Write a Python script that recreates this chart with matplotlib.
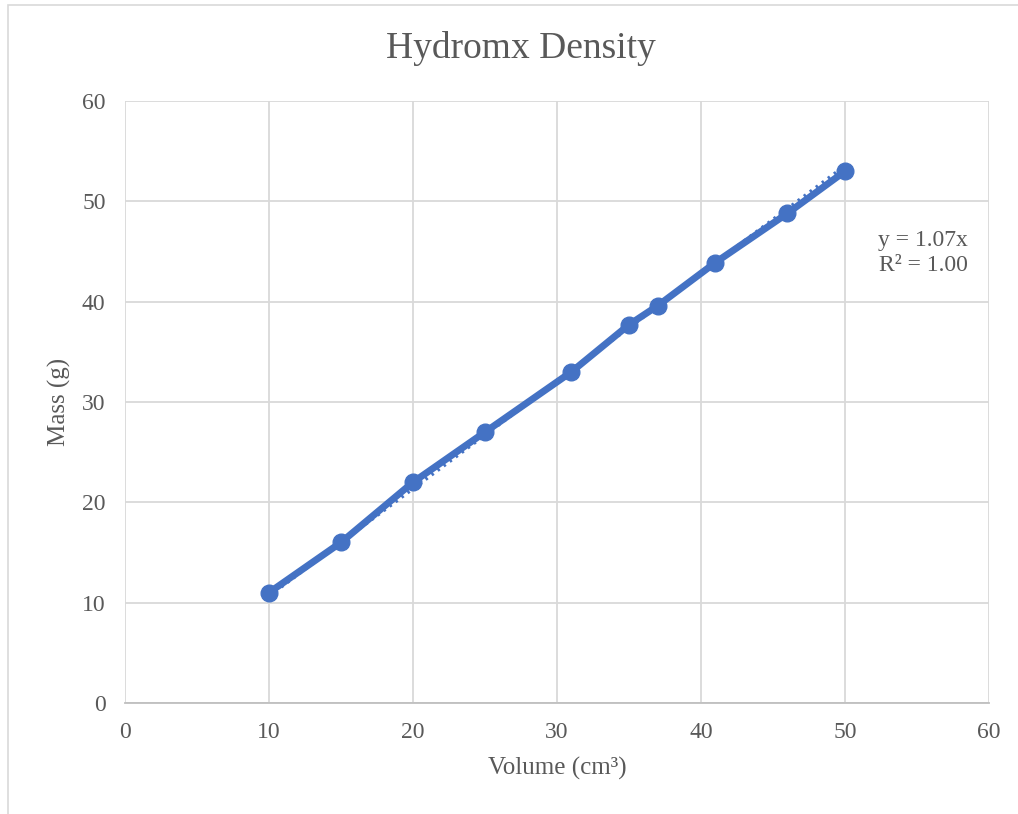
import matplotlib.pyplot as plt
import numpy as np
from matplotlib.patches import Rectangle

plt.rcParams['font.family'] = ['Liberation Serif', 'DejaVu Serif']

# measured volume (cm3) and mass (g)
volume = [10, 15, 20, 25, 31, 35, 37, 41, 46, 50]
mass = [11, 16, 22, 27, 33, 37.7, 39.6, 43.9, 48.8, 53]
slope = 1.07

blue = '#4472c4'
gray = '#595959'

fig = plt.figure(figsize=[10.18, 8.14], dpi=100)
fig.patches.append(Rectangle((0.008, -0.01), 1.2, 1.004, transform=fig.transFigure,
                             fill=False, edgecolor='#d9d9d9', lw=1.2))
ax = fig.add_axes([0.1228, 0.1364, 0.8487, 0.7395])

ax.plot(volume, mass, color=blue, lw=5, marker='o', ms=12, zorder=3)
xt = np.array([volume[0], volume[-1]])
ax.plot(xt, slope * xt, color=blue, lw=3, ls=(0, (0.6, 1.2)), zorder=2)

ax.set_xlim(0, 60)
ax.set_ylim(0, 60)
ax.set_xticks(range(0, 61, 10))
ax.set_yticks(range(0, 61, 10))
ax.grid(True, color='#d9d9d9', lw=1.3)
ax.set_axisbelow(True)
for s in ['top', 'right', 'left']:
    ax.spines[s].set_visible(False)
ax.spines['bottom'].set_color('#bfbfbf')
ax.spines['bottom'].set_linewidth(1.3)
ax.tick_params(length=0, labelsize=17, labelcolor=gray, pad=14)

fig.text(0.512, 0.94, 'Hydromx Density', fontsize=27, color=gray, ha='center', va='center')
ax.set_xlabel('Volume (cm³)', fontsize=18, color=gray, labelpad=10)
ax.set_ylabel('Mass (g)', fontsize=18, color=gray, labelpad=8)

ax.text(0.9755, 0.785, 'y = 1.07x\nR² = 1.00', transform=ax.transAxes,
        ha='right', va='top', fontsize=17, color=gray, linespacing=1.2)

plt.savefig('out.png', dpi=100)
